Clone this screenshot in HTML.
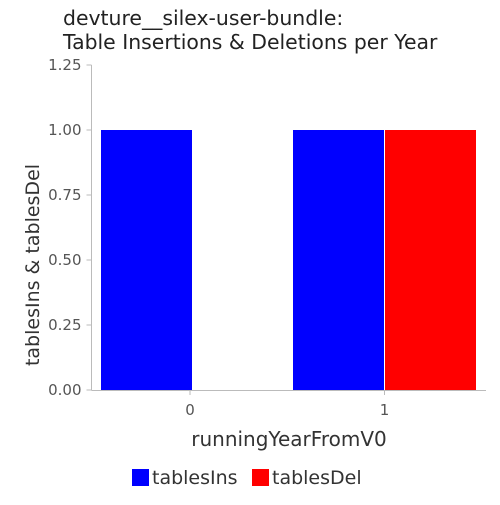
<!DOCTYPE html>
<html><head><meta charset="utf-8"><style>
body{margin:0;background:#fff;font-family:"Liberation Sans","DejaVu Sans",sans-serif}
svg text{font-family:"DejaVu Sans","Liberation Sans",sans-serif}
</style></head><body>
<svg id="c" width="500" height="500">
<text x="63" y="25" font-size="20.4" fill="#222">devture__silex-user-bundle:</text>
<text x="63" y="49" font-size="20.4" fill="#222">Table Insertions &amp; Deletions per Year</text>
<g id="plot"></g>
</svg>
<script>
const categories=["0","1"];
const seriesNames=["tablesIns","tablesDel"];
const tablesIns=[1,1];
const tablesDel=[0,1];
const yTicks=[0,0.25,0.5,0.75,1.0,1.25];
const colors=["#0000ff","#ff0000"];
const NS="http://www.w3.org/2000/svg";
const g=document.getElementById('plot');
const x0=91.5,y0=390,yMax=1.25,plotH=325,xEnd=486;
const y=v=>y0-v/yMax*plotH;
const bandStart=i=>101+i*192;
const tickX=i=>190+i*194.5;
function mk(t,a,p){const e=document.createElementNS(NS,t);for(const k in a)e.setAttribute(k,a[k]);(p||g).appendChild(e);return e;}
const vals=[tablesIns,tablesDel];
vals.forEach((arr,j)=>arr.forEach((v,i)=>{
 if(v<=0)return;
 const r=mk('rect',{x:bandStart(i)+j*92,y:y(v),width:91,height:y0-y(v),fill:colors[j]});
 
 
}));
const ya=mk('line',{x1:x0,y1:y(yMax),x2:x0,y2:y0,stroke:'#bbb'});

yTicks.forEach(t=>{
 mk('line',{x1:x0-5,y1:y(t),x2:x0,y2:y(t),stroke:'#bbb'});
 const tx=mk('text',{x:x0-10,y:y(t)+5,'font-size':15,fill:'#555','text-anchor':'end'});
 tx.textContent=t.toFixed(2);
 
});
const xa=mk('line',{x1:x0,y1:y0+0.5,x2:xEnd,y2:y0+0.5,stroke:'#bbb'});

categories.forEach((c,i)=>{
 mk('line',{x1:tickX(i),y1:y0,x2:tickX(i),y2:y0+5,stroke:'#bbb'});
 const tx=mk('text',{x:tickX(i),y:y0+25,'font-size':15,fill:'#555','text-anchor':'middle'});
 tx.textContent=c;
 
});
const xt=mk('text',{x:289,y:446,'font-size':20,fill:'#333','text-anchor':'middle'});
xt.textContent='runningYearFromV0';

const yt=mk('text',{x:0,y:0,'font-size':19,fill:'#333','text-anchor':'middle',transform:'translate(39,265) rotate(-90)'});
yt.textContent='tablesIns & tablesDel';

const lx=[132,252];
seriesNames.forEach((s,j)=>{
 const r=mk('rect',{x:lx[j],y:469,width:17,height:17,fill:colors[j]});
 
 const t=mk('text',{x:lx[j]+20,y:484,'font-size':19,fill:'#333'});
 t.textContent=s;
 
});
</script>
</body></html>
